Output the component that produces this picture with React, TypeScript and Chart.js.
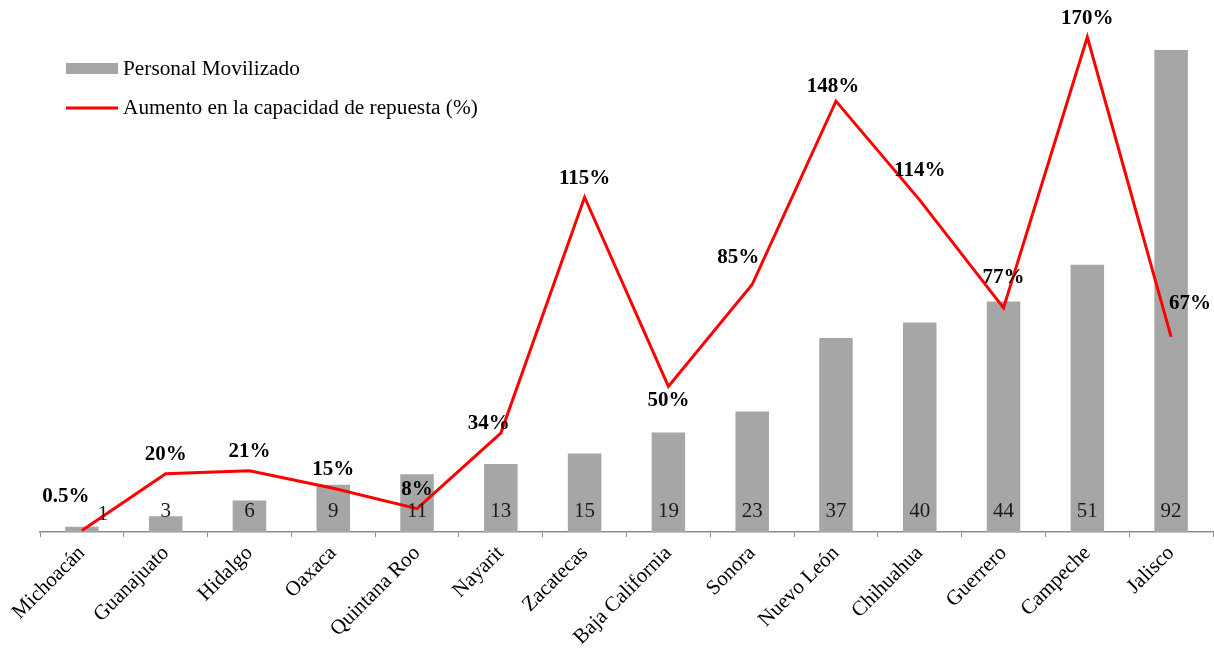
import React, { useEffect, useRef } from "react";
import { Chart, registerables } from "chart.js";

Chart.register(...registerables);

const categories = [
  "Michoacán", "Guanajuato", "Hidalgo", "Oaxaca", "Quintana Roo", "Nayarit", "Zacatecas",
  "Baja California", "Sonora", "Nuevo León", "Chihuahua", "Guerrero", "Campeche", "Jalisco",
];
const personalMovilizado = [1, 3, 6, 9, 11, 13, 15, 19, 23, 37, 40, 44, 51, 92];
const aumentoCapacidad = [0.5, 20, 21, 15, 8, 34, 115, 50, 85, 148, 114, 77, 170, 67];
const aumentoLabels = ["0.5%", "20%", "21%", "15%", "8%", "34%", "115%", "50%", "85%", "148%", "114%", "77%", "170%", "67%"];
const aumentoAnchors = ["topLeft", "top", "top", "top", "top", "left", "top", "bottom", "upLeft", "nearTop", "high", "high", "top", "topRight"];
const barLabelAnchors = ["beside", "base", "base", "base", "base", "base", "base", "base", "base", "base", "base", "base", "base", "base"];
const seriesNames = ["Personal Movilizado", "Aumento en la capacidad de repuesta (%)"];

const FONT = '"Liberation Serif", "Times New Roman", serif';
const BAR_COLOR = "#A6A6A6";
const LINE_COLOR = "#FF0000";

const anchorOffsets: Record<string, [number, number]> = {
  top: [0, -19],
  nearTop: [-3, -15],
  high: [0, -30],
  bottom: [0, 14],
  topLeft: [-16, -34],
  upLeft: [-14, -27],
  left: [-12, -9],
  topRight: [19, -33],
};

const labelsPlugin = {
  id: "customLabels",
  afterDatasetsDraw(chart: any) {
    const ctx = chart.ctx;
    const barMeta = chart.getDatasetMeta(1);
    const lineMeta = chart.getDatasetMeta(0);
    ctx.save();
    ctx.textAlign = "center";
    ctx.textBaseline = "middle";
    ctx.fillStyle = "#1a1a1a";
    ctx.font = `21px ${FONT}`;
    const base = chart.scales.y.getPixelForValue(0);
    barMeta.data.forEach((el: any, i: number) => {
      const dx = barLabelAnchors[i] === "beside" ? 21 : 0;
      const dy = barLabelAnchors[i] === "beside" ? -18 : -21;
      ctx.fillText(String(personalMovilizado[i]), el.x + dx, base + dy);
    });
    ctx.fillStyle = "#000";
    ctx.font = `bold 21px ${FONT}`;
    lineMeta.data.forEach((el: any, i: number) => {
      const [dx, dy] = anchorOffsets[aumentoAnchors[i]] || [0, -20];
      ctx.fillText(aumentoLabels[i], el.x + dx, el.y + dy);
    });
    ctx.restore();
  },
  afterDraw(chart: any) {
    const ctx = chart.ctx;
    ctx.save();
    ctx.fillStyle = BAR_COLOR;
    ctx.fillRect(66, 63, 52, 11);
    ctx.strokeStyle = LINE_COLOR;
    ctx.lineWidth = 3;
    ctx.beginPath();
    ctx.moveTo(66, 108);
    ctx.lineTo(118, 108);
    ctx.stroke();
    ctx.fillStyle = "#000";
    ctx.font = `21.3px ${FONT}`;
    ctx.textAlign = "left";
    ctx.textBaseline = "middle";
    ctx.fillText(seriesNames[0], 123, 69);
    ctx.fillText(seriesNames[1], 123, 108);
    ctx.restore();
  },
};

export default function App() {
  const canvasRef = useRef<HTMLCanvasElement>(null);
  useEffect(() => {
    document.body.style.margin = "0";
    const chart = new Chart(canvasRef.current as HTMLCanvasElement, {
      type: "bar",
      data: {
        labels: categories,
        datasets: [
          {
            type: "line",
            label: seriesNames[1],
            data: aumentoCapacidad,
            borderColor: LINE_COLOR,
            backgroundColor: LINE_COLOR,
            borderWidth: 3,
            pointRadius: 0,
            tension: 0,
            yAxisID: "y1",
            order: 0,
          } as any,
          {
            type: "bar",
            label: seriesNames[0],
            data: personalMovilizado,
            backgroundColor: BAR_COLOR,
            barPercentage: 0.4,
            categoryPercentage: 1,
            yAxisID: "y",
            order: 1,
          },
        ],
      },
      options: {
        animation: false,
        responsive: false,
        layout: { padding: { top: 8, left: 40, right: 1, bottom: 0 } },
        plugins: { legend: { display: false }, tooltip: { enabled: false } },
        scales: {
          x: {
            offset: true,
            grid: {
              offset: true,
              drawOnChartArea: false,
              drawTicks: true,
              tickLength: 5,
              color: "#8C8C8C",
            },
            border: { display: true, color: "#8C8C8C", width: 1.5 },
            ticks: {
              autoSkip: false,
              minRotation: 45,
              maxRotation: 45,
              padding: 4,
              color: "#000",
              font: { family: FONT, size: 21 },
            },
            afterFit: (scale: any) => {
              scale.height = 123;
            },
          },
          y: { display: false, min: 0, max: 100 },
          y1: { display: false, min: 0, max: 180, position: "right" },
        },
      },
      plugins: [labelsPlugin],
    });
    return () => chart.destroy();
  }, []);
  return (
    <div style={{ position: "fixed", left: 0, top: 0, width: 1214, height: 655, background: "#fff" }}>
      <canvas ref={canvasRef} width={1214} height={655} style={{ width: 1214, height: 655 }} />
    </div>
  );
}
